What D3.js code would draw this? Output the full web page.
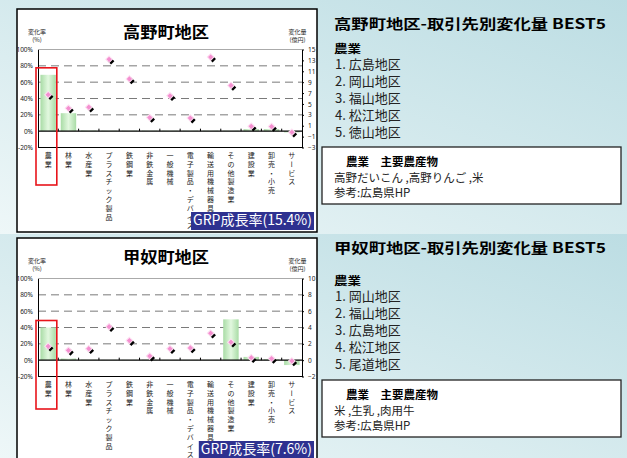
<!DOCTYPE html>
<html>
<head>
<meta charset="utf-8">
<script src="https://cdn.jsdelivr.net/npm/d3@7"></script>
<style>
  body { margin: 0; }
  svg { display: block; font-family: "Noto Sans CJK JP", "Noto Sans", sans-serif; }
</style>
</head>
<body>
<div id="graph"></div>
<script>
const categories = ["農業", "林業", "水産業", "プラスチック製品", "鉄鋼業", "非鉄金属", "一般機械",
  "電子製品・デバイス", "輸送用機械器具", "その他製造業", "建設業", "卸売・小売", "サービス"];
const rateTicks = [100, 80, 60, 40, 20, 0, -20];

// 高野町
const takanoRate = [69, 22, 0.8, 0.6, 0.6, 0.6, 0.6, 0.6, 0.6, 0.6, 2.5, 2.5, -1.5];
const takanoAmount = [6.7, 4.2, 4.4, 13.2, 9.6, 2.5, 6.5, 2.4, 13.6, 8.4, 0.9, 0.85, -0.2];
const takanoAmountTicks = [15, 13, 11, 9, 7, 5, 3, 1, -1, -3];
const takanoBest = ["広島地区", "岡山地区", "福山地区", "松江地区", "徳山地区"];
const takanoProducts = ["高野だいこん ,高野りんご ,米", "参考:広島県HP"];

// 甲奴町
const konuRate = [40, 2, 0.6, 0.4, 0.4, 0.6, 0.4, 0.4, 0.4, 50, 4, 1, -6];
const konuAmount = [1.7, 1.2, 1.4, 4.1, 2.4, 0.5, 1.4, 1.5, 3.3, 2.2, 0.3, 0.2, -0.1];
const konuAmountTicks = [10, 8, 6, 4, 2, 0, -2];
const konuBest = ["岡山地区", "福山地区", "広島地区", "松江地区", "尾道地区"];
const konuProducts = ["米 ,生乳 ,肉用牛", "参考:広島県HP"];

const W = 627, H = 458;
const svg = d3.select("#graph").append("svg").attr("width", W).attr("height", H);
const defs = svg.append("defs");

const bg = defs.append("linearGradient").attr("id", "bgGrad")
  .attr("x1", "100%").attr("y1", "0%").attr("x2", "0%").attr("y2", "100%");
bg.append("stop").attr("offset", "0%").attr("stop-color", "#bcdde3");
bg.append("stop").attr("offset", "100%").attr("stop-color", "#eef7f8");

const barGrad = defs.append("linearGradient").attr("id", "barGrad")
  .attr("x1", "0%").attr("x2", "100%").attr("y1", "0%").attr("y2", "0%");
barGrad.append("stop").attr("offset", "0%").attr("stop-color", "#a9dca6");
barGrad.append("stop").attr("offset", "50%").attr("stop-color", "#e2f8df");
barGrad.append("stop").attr("offset", "100%").attr("stop-color", "#a9dca6");

svg.append("rect").attr("x", 0).attr("y", 0).attr("width", W).attr("height", 234).attr("fill", "url(#bgGrad)");
svg.append("rect").attr("x", 0).attr("y", 234).attr("width", W).attr("height", H - 234).attr("fill", "url(#bgGrad)");

function drawChart(top, panelH, title, titleY, rates, amounts, amountTicks, grp, hlBottom) {
  const g = svg.append("g").attr("transform", `translate(0,${top})`);
  g.append("rect").attr("x", 17).attr("y", 0).attr("width", 300).attr("height", panelH)
    .attr("fill", "#fff").attr("stroke", "#000").attr("stroke-width", 1.5);

  const plotTop = 40.5, plotBottom = 138.5, left = 38, right = 302;
  const x = d3.scaleBand().domain(categories).range([left, right]);
  const yL = d3.scaleLinear().domain([-20, 100]).range([plotBottom, plotTop]);
  const yR = d3.scaleLinear().domain(d3.extent(amountTicks)).range([plotBottom, plotTop]);

  g.append("text").attr("x", 166).attr("y", titleY).attr("text-anchor", "middle")
    .attr("font-size", 16).attr("font-weight", "bold").attr("textLength", 86)
    .attr("lengthAdjust", "spacingAndGlyphs").text(title);

  const smallLabel = (xp, lines) => lines.forEach((t, i) =>
    g.append("text").attr("x", xp).attr("y", 25 + i * 7.5).attr("text-anchor", "middle")
      .attr("font-size", 6).attr("fill", "#222").text(t));
  smallLabel(37, ["変化率", "(%)"]);
  smallLabel(297.5, ["変化量", "(億円)"]);

  // gridlines
  g.append("g").selectAll("line").data([80, 60, 40, 20]).join("line")
    .attr("x1", left).attr("x2", right).attr("y1", d => yL(d)).attr("y2", d => yL(d))
    .attr("stroke", "#7a7a7a").attr("stroke-width", 1).attr("stroke-dasharray", "8,5");
  g.append("line").attr("x1", left).attr("x2", right).attr("y1", yL(100)).attr("y2", yL(100))
    .attr("stroke", "#aaa");
  g.append("line").attr("x1", left).attr("x2", right).attr("y1", yL(-20)).attr("y2", yL(-20))
    .attr("stroke", "#000");

  // bars
  const bw = x.bandwidth() * 0.76;
  g.append("g").selectAll("rect").data(rates).join("rect")
    .attr("x", (d, i) => x(categories[i]) + (x.bandwidth() - bw) / 2)
    .attr("y", d => yL(Math.max(0, d)))
    .attr("width", bw)
    .attr("height", d => Math.abs(yL(d) - yL(0)))
    .attr("fill", "url(#barGrad)");

  // axes
  const axL = g.append("g").attr("transform", `translate(${left},0)`)
    .call(d3.axisLeft(yL).tickValues(rateTicks).tickFormat(d => d + "%").tickSize(0).tickPadding(5));
  axL.select(".domain").attr("stroke", "#000");
  axL.selectAll("text").attr("font-size", 6.5).attr("fill", "#222").attr("font-family", "Noto Sans, sans-serif");

  const axR = g.append("g").attr("transform", `translate(${right},0)`)
    .call(d3.axisRight(yR).tickValues(amountTicks).tickSize(2).tickSizeOuter(0).tickPadding(4));
  axR.select(".domain").attr("stroke", "#000");
  axR.selectAll("text").attr("font-size", 6.5).attr("fill", "#222").attr("font-family", "Noto Sans, sans-serif");

  // zero line with category ticks
  g.append("line").attr("x1", left).attr("x2", right).attr("y1", yL(0)).attr("y2", yL(0))
    .attr("stroke", "#000").attr("stroke-width", 1.2);
  g.append("g").selectAll("line").data(categories.slice(1)).join("line")
    .attr("x1", d => x(d)).attr("x2", d => x(d))
    .attr("y1", yL(0)).attr("y2", yL(0) - 2.5).attr("stroke", "#000");

  // markers
  const diamond = d3.symbol(d3.symbolSquare, 22)();
  const mk = g.append("g").selectAll("g").data(amounts).join("g")
    .attr("transform", (d, i) => `translate(${x(categories[i]) + x.bandwidth() / 2},${yR(d)})`);
  mk.append("path").attr("d", diamond).attr("transform", "translate(2,2) rotate(45)").attr("fill", "#000");
  mk.append("path").attr("d", diamond).attr("transform", "rotate(45)")
    .attr("fill", "#f48fd0").attr("stroke", "#fde0f2").attr("stroke-width", 1);

  // vertical category labels, one glyph per row (long-vowel mark turned upright)
  const labels = g.append("g").attr("font-size", 7).attr("fill", "#222").attr("text-anchor", "middle");
  categories.forEach(d => {
    const cx = x(d) + x.bandwidth() / 2;
    Array.from(d).forEach((c, j) => {
      const cy = 146.5 + j * 8.8;
      labels.append("text")
        .attr("x", cx).attr("y", cy).attr("dy", "0.35em")
        .attr("transform", c === "ー" ? `rotate(90,${cx},${cy})` : null)
        .text(c);
    });
  });

  // highlight box
  g.append("rect").attr("x", x(categories[0]) - 2).attr("y", yL(rates[0]) - 7)
    .attr("width", x.bandwidth() + 0.5).attr("height", hlBottom - (yL(rates[0]) - 7))
    .attr("fill", "none").attr("stroke", "#e8141b").attr("stroke-width", 1.6);

  // GRP label
  const box = g.append("rect").attr("y", 203).attr("height", 18).attr("fill", "#2e3190");
  const gt = g.append("text").attr("y", 216).attr("font-size", 14).attr("fill", "#fff").text(grp);
  const tw = gt.node().getComputedTextLength();
  box.attr("x", 314 - tw - 4).attr("width", tw + 4);
  gt.attr("x", 314 - tw - 2);
}

function drawSide(titleY, title, headY, best, listY, boxY, products) {
  const g = svg.append("g");
  g.append("text").attr("x", 334).attr("y", titleY).attr("font-size", 14).attr("font-weight", "bold")
    .attr("textLength", 272).attr("lengthAdjust", "spacingAndGlyphs").text(title);
  g.append("text").attr("x", 334).attr("y", headY).attr("font-size", 11).attr("font-weight", "bold")
    .attr("textLength", 27).attr("lengthAdjust", "spacingAndGlyphs").text("農業");
  g.selectAll(".best").data(best).join("text")
    .attr("x", 335).attr("y", (d, i) => listY + i * 17.1)
    .attr("font-size", 13).attr("fill", "#222").text((d, i) => `${i + 1}. ${d}`);
  g.append("rect").attr("x", 322).attr("y", boxY).attr("width", 299).attr("height", 57)
    .attr("fill", "#fff").attr("stroke", "#222").attr("stroke-width", 1.3);
  g.append("text").attr("x", 346).attr("y", boxY + 19).attr("font-size", 11.5).attr("font-weight", "bold")
    .text("農業　主要農産物");
  products.forEach((t, i) =>
    g.append("text").attr("x", 334).attr("y", boxY + 34.5 + i * 15.5).attr("font-size", 11.5)
      .attr("fill", "#222").text(t));
}

drawChart(9, 223, "高野町地区", 29, takanoRate, takanoAmount, takanoAmountTicks, "GRP成長率(15.4%)", 176);
drawChart(238, 240, "甲奴町地区", 25, konuRate, konuAmount, konuAmountTicks, "GRP成長率(7.6%)", 171);
drawSide(29, "高野町地区-取引先別変化量 BEST5", 53, takanoBest, 69, 147, takanoProducts);
drawSide(253, "甲奴町地区-取引先別変化量 BEST5", 285, konuBest, 301, 380, konuProducts);
</script>
</body>
</html>
